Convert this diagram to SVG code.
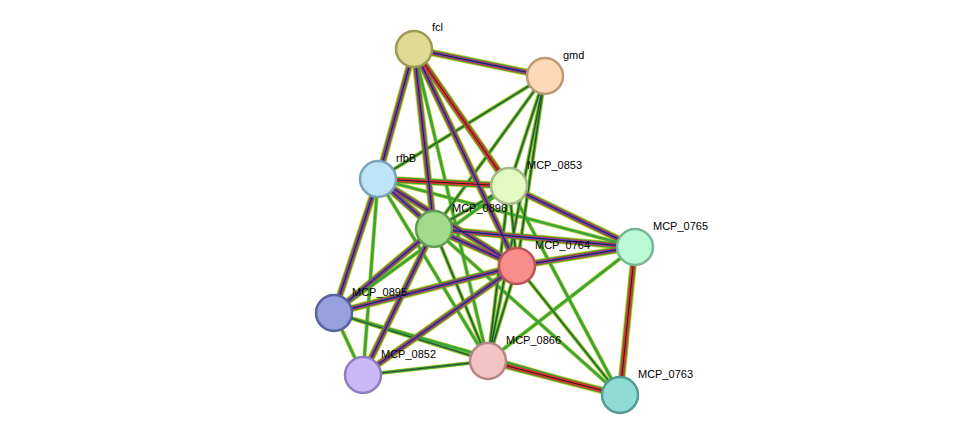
<svg xmlns="http://www.w3.org/2000/svg" xmlns:xlink="http://www.w3.org/1999/xlink" width="975" height="441" viewBox="0 0 975 441">
<style>
.y{stroke:#c8d43a;stroke-width:7.5;fill:none}
.g{stroke:#3aa53a;stroke-width:5.8;fill:none}
.r{stroke:#e0302e;stroke-width:4.2;fill:none}
.b{stroke:#4a4adc;stroke-width:2.6;fill:none}
.k{stroke:#222;stroke-width:1;fill:none}
.sy{stroke:#c8d43a;stroke-width:4.2;fill:none}
.sg{stroke:#3aa53a;stroke-width:2.8;fill:none}
.sk{stroke:#333;stroke-width:0.9;fill:none}
.n{stroke-width:2.5}
text{font-family:"Liberation Sans",Arial,sans-serif;font-size:11px;fill:#000}
</style>
<defs>
<path id="e1" d="M414,49L545,76"/>
<path id="e2" d="M414,49L378,179"/>
<path id="e3" d="M414,49L434,229"/>
<path id="e4" d="M414,49L517,266"/>
<path id="e5" d="M414,49L509,186"/>
<path id="e6" d="M378,179L434,229"/>
<path id="e7" d="M378,179L517,266"/>
<path id="e8" d="M434,229L517,266"/>
<path id="e9" d="M434,229L334,313"/>
<path id="e10" d="M434,229L363,375"/>
<path id="e11" d="M517,266L635,247"/>
<path id="e12" d="M635,247L620,395"/>
<path id="e13" d="M488,361L620,395"/>
<path id="e14" d="M517,266L334,313"/>
<path id="e15" d="M517,266L363,375"/>
<path id="e16" d="M378,179L334,313"/>
<path id="e17" d="M509,186L635,247"/>
<path id="e18" d="M434,229L635,247"/>
<path id="e19" d="M378,179L509,186"/>
<path id="s1" d="M545,76L378,179"/>
<path id="s2" d="M545,76L509,186"/>
<path id="s3" d="M545,76L434,229"/>
<path id="s4" d="M545,76L517,266"/>
<path id="s5" d="M545,76L488,361"/>
<path id="s6" d="M378,179L363,375"/>
<path id="s7" d="M378,179L488,361"/>
<path id="s8" d="M378,179L635,247"/>
<path id="s9" d="M509,186L434,229"/>
<path id="s10" d="M509,186L517,266"/>
<path id="s11" d="M509,186L488,361"/>
<path id="s12" d="M509,186L620,395"/>
<path id="s13" d="M509,186L334,313"/>
<path id="s14" d="M434,229L488,361"/>
<path id="s15" d="M434,229L620,395"/>
<path id="s16" d="M517,266L488,361"/>
<path id="s17" d="M517,266L620,395"/>
<path id="s18" d="M635,247L488,361"/>
<path id="s19" d="M334,313L488,361"/>
<path id="s20" d="M334,313L620,395"/>
<path id="s21" d="M363,375L488,361"/>
<path id="s22" d="M414,49L488,361"/>
<path id="s23" d="M334,313L363,375"/>
</defs>
<g id="connectors">
<g id="rich">
<use xlink:href="#e1" class="y"/><use xlink:href="#e2" class="y"/><use xlink:href="#e3" class="y"/><use xlink:href="#e4" class="y"/><use xlink:href="#e5" class="y"/><use xlink:href="#e6" class="y"/><use xlink:href="#e7" class="y"/><use xlink:href="#e8" class="y"/><use xlink:href="#e9" class="y"/><use xlink:href="#e10" class="y"/><use xlink:href="#e11" class="y"/><use xlink:href="#e12" class="y"/><use xlink:href="#e13" class="y"/><use xlink:href="#e14" class="y"/><use xlink:href="#e15" class="y"/><use xlink:href="#e16" class="y"/><use xlink:href="#e17" class="y"/><use xlink:href="#e18" class="y"/><use xlink:href="#e19" class="y"/>
</g>
<g id="simple">
<use xlink:href="#s1" class="sy"/><use xlink:href="#s2" class="sy"/><use xlink:href="#s3" class="sy"/><use xlink:href="#s4" class="sy"/><use xlink:href="#s5" class="sy"/><use xlink:href="#s6" class="sy"/><use xlink:href="#s7" class="sy"/><use xlink:href="#s8" class="sy"/><use xlink:href="#s9" class="sy"/><use xlink:href="#s10" class="sy"/><use xlink:href="#s11" class="sy"/><use xlink:href="#s12" class="sy"/><use xlink:href="#s13" class="sy"/><use xlink:href="#s14" class="sy"/><use xlink:href="#s15" class="sy"/><use xlink:href="#s16" class="sy"/><use xlink:href="#s17" class="sy"/><use xlink:href="#s18" class="sy"/><use xlink:href="#s19" class="sy"/><use xlink:href="#s20" class="sy"/><use xlink:href="#s21" class="sy"/><use xlink:href="#s22" class="sy"/><use xlink:href="#s23" class="sy"/>
<use xlink:href="#s1" class="sg"/><use xlink:href="#s2" class="sg"/><use xlink:href="#s3" class="sg"/><use xlink:href="#s4" class="sg"/><use xlink:href="#s5" class="sg"/><use xlink:href="#s6" class="sg"/><use xlink:href="#s7" class="sg"/><use xlink:href="#s8" class="sg"/><use xlink:href="#s9" class="sg"/><use xlink:href="#s10" class="sg"/><use xlink:href="#s11" class="sg"/><use xlink:href="#s12" class="sg"/><use xlink:href="#s13" class="sg"/><use xlink:href="#s14" class="sg"/><use xlink:href="#s15" class="sg"/><use xlink:href="#s16" class="sg"/><use xlink:href="#s17" class="sg"/><use xlink:href="#s18" class="sg"/><use xlink:href="#s19" class="sg"/><use xlink:href="#s20" class="sg"/><use xlink:href="#s21" class="sg"/><use xlink:href="#s22" class="sg"/><use xlink:href="#s23" class="sg"/>
<use xlink:href="#s1" class="sk"/><use xlink:href="#s2" class="sk"/><use xlink:href="#s3" class="sk"/><use xlink:href="#s4" class="sk"/><use xlink:href="#s5" class="sk"/><use xlink:href="#s9" class="sk"/><use xlink:href="#s10" class="sk"/><use xlink:href="#s11" class="sk"/><use xlink:href="#s14" class="sk"/><use xlink:href="#s16" class="sk"/><use xlink:href="#s17" class="sk"/><use xlink:href="#s19" class="sk"/><use xlink:href="#s21" class="sk"/>
</g>
<g id="rich2">
<use xlink:href="#e1" class="g"/><use xlink:href="#e2" class="g"/><use xlink:href="#e3" class="g"/><use xlink:href="#e4" class="g"/><use xlink:href="#e5" class="g"/><use xlink:href="#e6" class="g"/><use xlink:href="#e7" class="g"/><use xlink:href="#e8" class="g"/><use xlink:href="#e9" class="g"/><use xlink:href="#e10" class="g"/><use xlink:href="#e11" class="g"/><use xlink:href="#e12" class="g"/><use xlink:href="#e13" class="g"/><use xlink:href="#e14" class="g"/><use xlink:href="#e15" class="g"/><use xlink:href="#e16" class="g"/><use xlink:href="#e17" class="g"/><use xlink:href="#e18" class="g"/><use xlink:href="#e19" class="g"/>
<use xlink:href="#e1" class="r"/><use xlink:href="#e2" class="r"/><use xlink:href="#e3" class="r"/><use xlink:href="#e4" class="r"/><use xlink:href="#e5" class="r"/><use xlink:href="#e6" class="r"/><use xlink:href="#e7" class="r"/><use xlink:href="#e8" class="r"/><use xlink:href="#e9" class="r"/><use xlink:href="#e10" class="r"/><use xlink:href="#e11" class="r"/><use xlink:href="#e12" class="r"/><use xlink:href="#e13" class="r"/><use xlink:href="#e14" class="r"/><use xlink:href="#e15" class="r"/><use xlink:href="#e16" class="r"/><use xlink:href="#e17" class="r"/><use xlink:href="#e18" class="r"/><use xlink:href="#e19" class="r"/>
<use xlink:href="#e1" class="b"/><use xlink:href="#e2" class="b"/><use xlink:href="#e3" class="b"/><use xlink:href="#e4" class="b"/><use xlink:href="#e6" class="b"/><use xlink:href="#e7" class="b"/><use xlink:href="#e8" class="b"/><use xlink:href="#e9" class="b"/><use xlink:href="#e10" class="b"/><use xlink:href="#e11" class="b"/><use xlink:href="#e14" class="b"/><use xlink:href="#e15" class="b"/><use xlink:href="#e16" class="b"/><use xlink:href="#e17" class="b"/><use xlink:href="#e18" class="b"/>
<use xlink:href="#e1" class="k"/><use xlink:href="#e2" class="k"/><use xlink:href="#e3" class="k"/><use xlink:href="#e4" class="k"/><use xlink:href="#e5" class="k"/><use xlink:href="#e6" class="k"/><use xlink:href="#e7" class="k"/><use xlink:href="#e8" class="k"/><use xlink:href="#e9" class="k"/><use xlink:href="#e10" class="k"/><use xlink:href="#e11" class="k"/><use xlink:href="#e12" class="k"/><use xlink:href="#e13" class="k"/><use xlink:href="#e14" class="k"/><use xlink:href="#e15" class="k"/><use xlink:href="#e16" class="k"/><use xlink:href="#e17" class="k"/><use xlink:href="#e18" class="k"/><use xlink:href="#e19" class="k"/>
</g>
</g>
<g id="fcl"><circle class="n" cx="414" cy="49" r="18" fill="#dfdb93" stroke="#9c9a55"/><text x="432" y="31">fcl</text></g>
<g id="gmd"><circle class="n" cx="545" cy="76" r="18" fill="#fdd9b6" stroke="#bc9a78"/><text x="563" y="59">gmd</text></g>
<g id="rfbB"><circle class="n" cx="378" cy="179" r="18" fill="#bde4f6" stroke="#7aa3ba"/><text x="396" y="162">rfbB</text></g>
<g id="MCP_0853"><circle class="n" cx="509" cy="186" r="18" fill="#e2fbc1" stroke="#a1b888"/><text x="527" y="169">MCP_0853</text></g>
<g id="MCP_0896"><circle class="n" cx="434" cy="229" r="18" fill="#9fdb8b" stroke="#639c55"/><text x="452" y="212">MCP_0896</text></g>
<g id="MCP_0764"><circle class="n" cx="517" cy="266" r="18" fill="#fb8c8c" stroke="#b95454"/><text x="535" y="249">MCP_0764</text></g>
<g id="MCP_0765"><circle class="n" cx="635" cy="247" r="18" fill="#bafad5" stroke="#78b796"/><text x="653" y="230">MCP_0765</text></g>
<g id="MCP_0895"><circle class="n" cx="334" cy="313" r="18" fill="#96a0dc" stroke="#5a629e"/><text x="352" y="296">MCP_0895</text></g>
<g id="MCP_0852"><circle class="n" cx="363" cy="375" r="18" fill="#cbb8f9" stroke="#907dbd"/><text x="381" y="358">MCP_0852</text></g>
<g id="MCP_0866"><circle class="n" cx="488" cy="361" r="18" fill="#f5c3c3" stroke="#b58686"/><text x="506" y="344">MCP_0866</text></g>
<g id="MCP_0763"><circle class="n" cx="620" cy="395" r="18" fill="#8fdcd5" stroke="#559b94"/><text x="638" y="378">MCP_0763</text></g>
</svg>
